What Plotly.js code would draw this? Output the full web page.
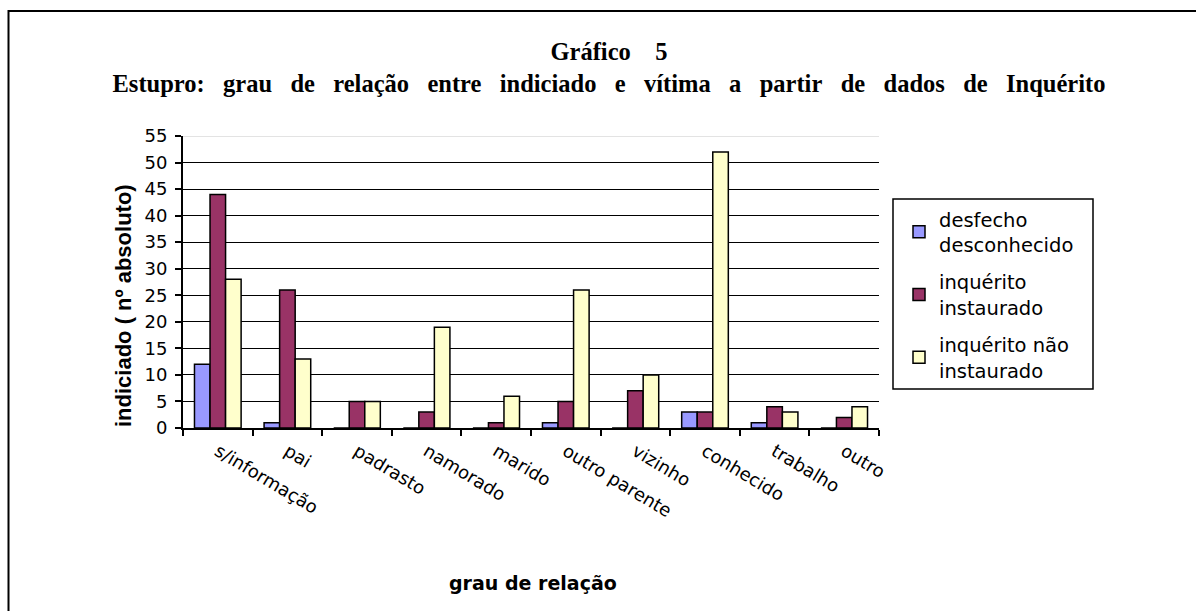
<!DOCTYPE html>
<html>
<head>
<meta charset="utf-8">
<script src="https://cdn.plot.ly/plotly-3.0.1.min.js"></script>
<style>html,body{margin:0;padding:0;background:#fff;}#chart{width:1196px;height:611px;}</style>
</head>
<body>
<div id="chart"></div>
<script>
const categories = ["s/informação","pai","padrasto","namorado","marido","outro parente","vizinho","conhecido","trabalho","outro"];
const desfechoDesconhecido = [12, 1, 0, 0, 0, 1, 0, 3, 1, 0];
const inqueritoInstaurado = [44, 26, 5, 3, 1, 5, 7, 3, 4, 2];
const inqueritoNaoInstaurado = [28, 13, 5, 19, 6, 26, 10, 52, 3, 4];
const seriesNames = ["desfecho<br>desconhecido", "inquérito<br>instaurado", "inquérito não<br>instaurado"];
const yTicks = [0,5,10,15,20,25,30,35,40,45,50,55];

const W = 1196, H = 611;
const L = 183, R = 879, T = 136, B = 428;
const px = x => (x - L) / (R - L);
const py = y => (B - y) / (B - T);

const lineStyle = {color: '#000', width: 1.5};
const traces = [
  {type:'bar', x: categories, y: desfechoDesconhecido, name: seriesNames[0], legendgroup:'a',
   marker:{color:'#9999FF', line: lineStyle}},
  {type:'bar', x: categories, y: inqueritoInstaurado, name: seriesNames[1], legendgroup:'b',
   marker:{color:'#993366', line: lineStyle}},
  {type:'bar', x: categories, y: inqueritoNaoInstaurado, name: seriesNames[2], legendgroup:'c',
   marker:{color:'#FFFFCC', line: lineStyle}}
];

const sans = 'DejaVu Sans, Liberation Sans, Arial, sans-serif';
const gap = '&nbsp;&nbsp; ';
const titleLine2 = ['Estupro:', 'grau', 'de', 'relação', 'entre', 'indiciado', 'e', 'vítima', 'a', 'partir', 'de', 'dados', 'de', 'Inquérito'].join(gap);
const layout = {
  width: W, height: H,
  margin: {l: L, r: W - R, t: T, b: H - B, pad: 0},
  paper_bgcolor: '#fff', plot_bgcolor: '#fff',
  font: {family: sans, size: 18, color: '#000'},
  barmode: 'group', bargap: 0.33, bargroupgap: 0,
  showlegend: true,
  legend: {x: px(899), y: py(200), xanchor: 'left', yanchor: 'top',
           font: {family: sans, size: 19.5, color: '#000'},
           bgcolor: 'rgba(0,0,0,0)', borderwidth: 0,
           itemwidth: 30, tracegroupgap: 9, traceorder: 'grouped'},
  xaxis: {type: 'category', tickson: 'boundaries', ticks: 'outside', ticklen: 6,
          tickwidth: 1.5, tickcolor: '#000', showline: true, linecolor: '#000', linewidth: 2,
          tickangle: 31, ticklabelstandoff: 4, tickfont: {family: sans, size: 18, color: '#000'},
          showgrid: false, zeroline: false, automargin: false, fixedrange: true},
  yaxis: {range: [0, 55], tickvals: yTicks, ticktext: yTicks.map(String), ticks: 'outside', ticklen: 6,
          tickwidth: 1.5, tickcolor: '#000', showline: true, linecolor: '#000', linewidth: 2,
          ticklabelstandoff: 4,
          showgrid: true, gridcolor: '#000', gridwidth: 1, zeroline: false,
          tickfont: {family: sans, size: 18, color: '#000'}, automargin: false, fixedrange: true},
  title: {text: 'Gráfico&nbsp;&nbsp;&nbsp;&nbsp;5<br>' + titleLine2,
          font: {family: 'Liberation Serif, Times New Roman, serif', size: 24.5, color: '#000', weight: 'bold'},
          x: 609 / W, xanchor: 'center', xref: 'container', y: 1 - 60 / H, yanchor: 'middle', yref: 'container'},
  shapes: [
    {type: 'line', xref: 'paper', yref: 'y', x0: 0, x1: 1, y0: 55, y1: 55,
     line: {color: '#c8c8c8', width: 1}, layer: 'above'},
    {type: 'rect', xref: 'paper', yref: 'paper', x0: px(8.5), x1: px(1260), y0: py(700), y1: py(11),
     line: {color: '#000', width: 2}, fillcolor: 'rgba(0,0,0,0)', layer: 'above'},
    {type: 'rect', xref: 'paper', yref: 'paper', x0: px(893), x1: px(1093), y0: py(389), y1: py(199),
     line: {color: '#000', width: 1.5}, fillcolor: 'rgba(0,0,0,0)', layer: 'above'}
  ],
  annotations: [
    {text: '<b>indiciado ( nº absoluto)</b>', xref: 'paper', yref: 'paper', x: px(123), y: py(306),
     textangle: -90, showarrow: false, xanchor: 'center', yanchor: 'middle',
     font: {family: 'Liberation Sans, Arial, sans-serif', size: 22, color: '#000'}},
    {text: '<b>grau de relação</b>', xref: 'paper', yref: 'paper', x: px(533), y: py(583),
     showarrow: false, xanchor: 'center', yanchor: 'middle',
     font: {family: sans, size: 19, color: '#000'}}
  ]
};

Plotly.newPlot('chart', traces, layout, {displayModeBar: false});
</script>
</body>
</html>
